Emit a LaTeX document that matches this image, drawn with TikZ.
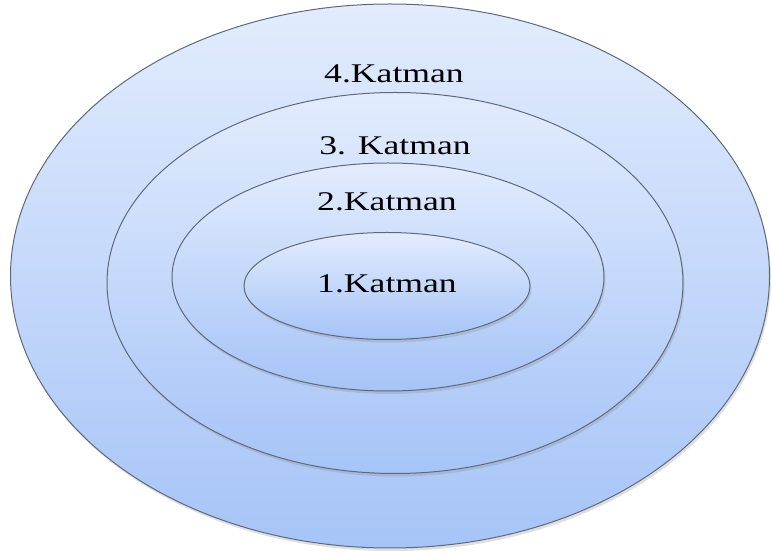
\documentclass[tikz,border=0pt]{standalone}
\usepackage{fontspec}
\setmainfont{Liberation Serif}
\definecolor{layertop}{RGB}{226,236,253}
\definecolor{layerbot}{RGB}{166,196,247}
\definecolor{layerline}{RGB}{95,105,125}
\usetikzlibrary{shapes.geometric, shadows}

\begin{document}
\begin{tikzpicture}[
  x=1pt, y=1pt,
  layer/.style={ellipse, inner sep=0pt, draw=layerline, line width=1pt,
                top color=layertop, bottom color=layerbot,
                drop shadow={shadow xshift=1.5pt, shadow yshift=-3pt, opacity=0.25}},
  lbl/.style={font=\fontsize{27}{30}\selectfont, text=black,
              xscale=1.32, transform shape}
]
  \useasboundingbox (0,0) rectangle (771,554);

  % Layers, outer to inner
  \node[layer, minimum width=759, minimum height=544] (l4) at (390,278) {};
  \node[layer, minimum width=576, minimum height=381] (l3) at (395,271) {};
  \node[layer, minimum width=432, minimum height=228] (l2) at (388,277) {};
  \node[layer, minimum width=286, minimum height=107] (l1) at (387,268) {};

  % Labels
  \node[lbl] (t4) at (394,480) {4.Katman};
  \node[lbl] (t3) at (395,408) {3. Katman};
  \node[lbl] (t2) at (387,352) {2.Katman};
  \node[lbl] (t1) at (387,270) {1.Katman};
\end{tikzpicture}
\end{document}
